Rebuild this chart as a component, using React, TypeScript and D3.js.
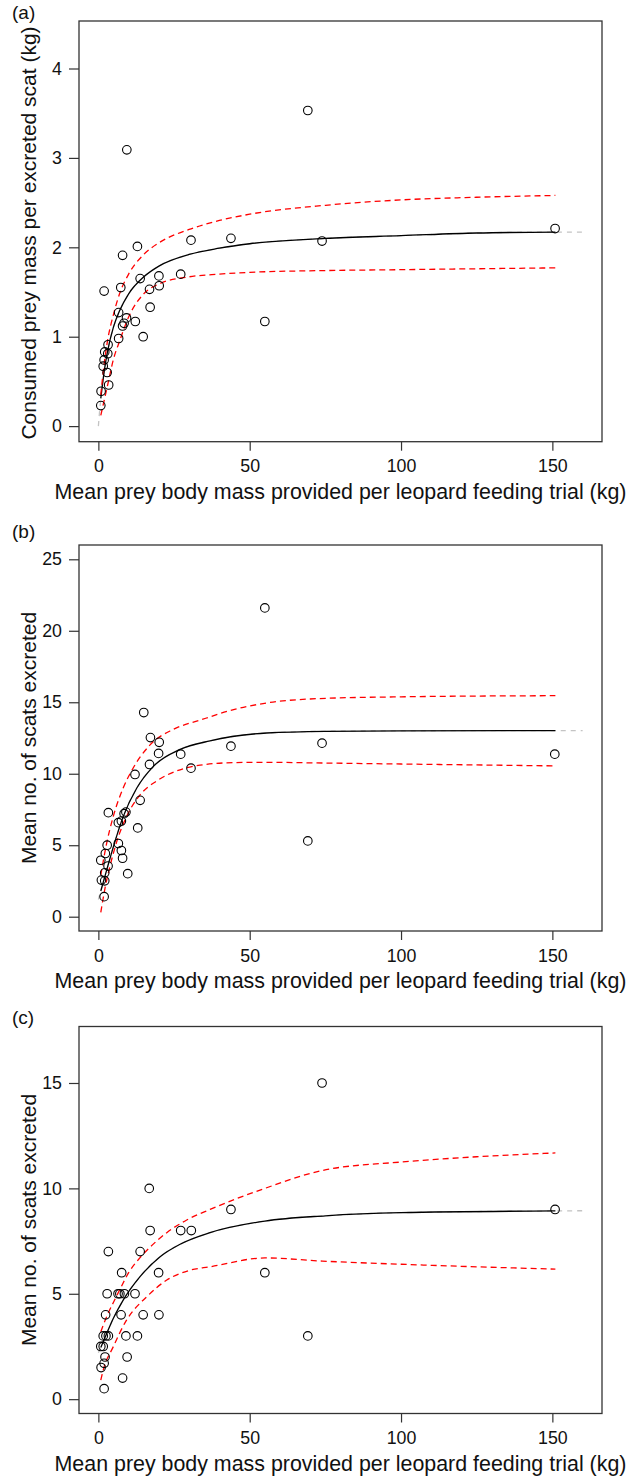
import React, { useRef, useEffect } from "react"
import * as d3 from "d3"

// shared x axis
const xTicks = [0, 50, 100, 150]
const xTitle = "Mean prey body mass provided per leopard feeding trial (kg)"

// panel (a): consumed prey mass per scat
const aPointX = [0.8, 0.9, 1.6, 1.9, 1.9, 2.1, 2.9, 3.1, 3.2, 3.4, 6.7, 6.7, 7.4, 8.0, 8.0, 8.5, 9.3, 9.4, 12.2, 12.9, 13.8, 14.8, 16.9, 17.1, 20.0, 20.1, 27.2, 30.6, 43.8, 55.0, 69.2, 73.9, 150.9]
const aPointY = [0.23, 0.39, 0.67, 0.74, 1.51, 0.83, 0.60, 0.81, 0.91, 0.46, 1.27, 0.98, 1.55, 1.12, 1.91, 1.15, 1.21, 3.09, 1.17, 2.01, 1.65, 1.00, 1.53, 1.33, 1.68, 1.57, 1.70, 2.08, 2.10, 1.17, 3.53, 2.07, 2.21]
const aFitX = [0, 0.8, 2, 3, 5, 7, 10, 15, 20, 30, 40, 50, 75, 100, 125, 151, 160]
const aFitY = [0, 0.31, 0.63, 0.83, 1.11, 1.29, 1.48, 1.67, 1.79, 1.92, 1.99, 2.04, 2.10, 2.13, 2.16, 2.17, 2.17]
const aCiX = [0.8, 2, 3, 5, 7, 10, 15, 20, 30, 40, 50, 75, 100, 125, 151]
const aUpper = [0.35, 0.72, 0.95, 1.25, 1.48, 1.70, 1.92, 2.05, 2.20, 2.30, 2.37, 2.47, 2.53, 2.56, 2.58]
const aLower = [0.12, 0.30, 0.45, 0.75, 0.95, 1.22, 1.48, 1.59, 1.67, 1.70, 1.72, 1.74, 1.75, 1.76, 1.77]
const aTicks = [0, 1, 2, 3, 4]

// panel (b): mean no. of scats
const bPointX = [15.0, 17.2, 20.1, 19.9, 27.2, 30.6, 16.9, 12.1, 13.8, 3.3, 9.1, 8.5, 7.6, 6.6, 13.0, 2.9, 6.6, 7.6, 2.3, 8.0, 0.8, 3.2, 2.1, 9.7, 1.0, 2.1, 1.9, 55.0, 43.8, 73.9, 150.8, 69.2]
const bPointY = [14.28, 12.53, 12.2, 11.42, 11.37, 10.39, 10.65, 9.95, 8.14, 7.28, 7.32, 7.21, 6.69, 6.58, 6.21, 5.0, 5.12, 4.63, 4.42, 4.09, 3.95, 3.54, 3.07, 3.01, 2.56, 2.51, 1.40, 21.6, 11.93, 12.14, 11.37, 5.3]
const bFitX = [0, 0.8, 1.6, 3, 4.9, 8.2, 12.7, 18.1, 27, 36.9, 55.6, 75, 100, 151, 160]
const bFitY = [1.2, 1.8, 2.4, 3.45, 4.85, 7.0, 9.0, 10.5, 11.7, 12.3, 12.85, 12.97, 13.0, 13.02, 13.02]
const bUpperX = [0.8, 2.7, 4.9, 8.2, 11.5, 17, 24.7, 33.6, 45, 55.6, 72, 100, 151]
const bUpper = [2.9, 5.1, 7.0, 9.0, 10.4, 12.0, 13.1, 13.75, 14.5, 14.95, 15.25, 15.38, 15.46]
const bLowerX = [0.8, 2.2, 3.8, 6, 9.3, 13.7, 19.3, 25.9, 33.6, 45, 55, 74, 100, 151]
const bLower = [0.3, 2.0, 3.5, 5.2, 7.0, 8.5, 9.5, 10.2, 10.6, 10.78, 10.8, 10.75, 10.68, 10.55]
const bTicks = [0, 5, 10, 15, 20, 25]

// panel (c): mean no. of scats
const cPointX = [16.8, 17.1, 27.2, 30.7, 3.3, 13.8, 7.7, 19.9, 2.9, 6.5, 7.1, 8.6, 12.1, 2.4, 7.5, 14.8, 20.0, 1.6, 2.5, 3.3, 9.1, 12.9, 0.8, 1.6, 2.2, 9.5, 1.9, 0.9, 8.0, 1.9, 43.8, 69.2, 73.9, 55.0, 150.9]
const cPointY = [10, 8, 8, 8, 7, 7, 6, 6, 5, 5, 5, 5, 5, 4, 4, 4, 4, 3, 3, 3, 3, 3, 2.5, 2.5, 2, 2, 1.7, 1.5, 1, 0.5, 9, 3, 15, 6, 9]
const cFitX = [0, 0.8, 2.7, 5, 8.2, 13.7, 20.3, 27, 36.9, 55, 75, 100, 151, 160]
const cFitY = [2.2, 2.45, 3.1, 3.85, 4.7, 5.8, 6.75, 7.35, 7.9, 8.45, 8.7, 8.85, 8.93, 8.94]
const cUpperX = [0.8, 3, 5, 7.1, 10, 13.7, 17, 22.6, 29.2, 36.9, 55, 74, 100, 125, 151]
const cUpper = [3.2, 4.0, 4.6, 5.2, 6.0, 6.7, 7.2, 7.9, 8.5, 9.0, 10.0, 10.85, 11.25, 11.5, 11.68]
const cLowerX = [0.8, 1.6, 4.9, 9.3, 16, 22.6, 30.3, 36.9, 55, 74, 100, 125, 151]
const cLower = [0.9, 1.38, 2.48, 3.75, 4.86, 5.65, 6.12, 6.28, 6.7, 6.55, 6.4, 6.28, 6.17]
const cTicks = [0, 5, 10, 15]

const zip = (xs: number[], ys: number[]) => xs.map((v, i) => [v, ys[i]] as [number, number])

const panels = [
  { tag: "(a)", top: 21, bottom: 441.7, ymax: 4.357, ticks: aTicks, yTitle: "Consumed prey mass per excreted scat (kg)",
    pts: zip(aPointX, aPointY), fit: zip(aFitX, aFitY), upper: zip(aCiX, aUpper), lower: zip(aCiX, aLower), tagY: 19, titleY: 233 },
  { tag: "(b)", top: 545, bottom: 931, ymax: 25, ticks: bTicks, yTitle: "Mean no. of scats excreted",
    pts: zip(bPointX, bPointY), fit: zip(bFitX, bFitY), upper: zip(bUpperX, bUpper), lower: zip(bLowerX, bLower), tagY: 538, titleY: 738 },
  { tag: "(c)", top: 1026.5, bottom: 1413.5, ymax: 17, ticks: cTicks, yTitle: "Mean no. of scats excreted",
    pts: zip(cPointX, cPointY), fit: zip(cFitX, cFitY), upper: zip(cUpperX, cUpper), lower: zip(cLowerX, cLower), tagY: 1024, titleY: 1220 },
]

const FONT = "'Liberation Sans', Arial, Helvetica, sans-serif"
const left = 79
const right = 602

const App: React.FC = () => {
  const svgRef = useRef<SVGSVGElement>(null)

  useEffect(() => {
    const svg = d3.select(svgRef.current)
    svg.selectAll("*").remove()

    const x = d3.scaleLinear().domain([-6.4, 166.4]).range([left, right])

    panels.forEach(p => {
      const y = d3.scaleLinear()
        .domain([-0.04 * p.ymax, 1.04 * p.ymax])
        .range([p.bottom, p.top])

      const g = svg.append("g").attr("font-family", FONT)

      const line = d3.line<[number, number]>()
        .x(d => x(d[0]))
        .y(d => y(d[1]))
        .curve(d3.curveMonotoneX)

      const xMin = d3.min(p.pts, d => d[0])!
      const xMax = d3.max(p.pts, d => d[0])!

      // full fitted curve, grey dashed
      g.append("path")
        .attr("d", line(p.fit))
        .attr("fill", "none")
        .attr("stroke", "#c4c4c4")
        .attr("stroke-width", 1.3)
        .attr("stroke-dasharray", "5,5")

      // fit over data range
      g.append("path")
        .attr("d", line(p.fit.filter(d => d[0] >= xMin - 0.01 && d[0] <= xMax + 0.2)))
        .attr("fill", "none")
        .attr("stroke", "#000")
        .attr("stroke-width", 1.3)

      ;[p.upper, p.lower].forEach(ci => {
        g.append("path")
          .attr("d", line(ci))
          .attr("fill", "none")
          .attr("stroke", "#ff0000")
          .attr("stroke-width", 1.3)
          .attr("stroke-dasharray", "6,4")
      })

      g.selectAll("circle.pt")
        .data(p.pts)
        .enter().append("circle")
        .attr("class", "pt")
        .attr("cx", d => x(d[0]))
        .attr("cy", d => y(d[1]))
        .attr("r", 4.3)
        .attr("fill", "none")
        .attr("stroke", "#000")
        .attr("stroke-width", 1.1)

      // box
      g.append("rect")
        .attr("x", left)
        .attr("y", p.top)
        .attr("width", right - left)
        .attr("height", p.bottom - p.top)
        .attr("fill", "none")
        .attr("stroke", "#333")
        .attr("stroke-width", 1.3)

      const xAxisG = g.append("g")
        .attr("transform", `translate(0,${p.bottom})`)
        .call(d3.axisBottom(x).tickValues(xTicks).tickSize(9).tickPadding(9).tickFormat(d3.format("d")))
      xAxisG.select(".domain").remove()
      xAxisG.selectAll("line").attr("stroke", "#333").attr("stroke-width", 1.2)
      xAxisG.selectAll("text").attr("font-size", 17.8).attr("font-family", FONT).attr("fill", "#111")

      const yAxisG = g.append("g")
        .attr("transform", `translate(${left},0)`)
        .call(d3.axisLeft(y).tickValues(p.ticks).tickSize(10).tickPadding(7).tickFormat(d3.format("d")))
      yAxisG.select(".domain").remove()
      yAxisG.selectAll("line").attr("stroke", "#333").attr("stroke-width", 1.2)
      yAxisG.selectAll("text").attr("font-size", 17.8).attr("font-family", FONT).attr("fill", "#111")

      g.append("text")
        .attr("x", (left + right) / 2)
        .attr("y", p.bottom + 57)
        .attr("text-anchor", "middle")
        .attr("font-size", 21.4)
        .attr("fill", "#111")
        .text(xTitle)

      g.append("text")
        .attr("transform", `translate(36,${p.titleY}) rotate(-90)`)
        .attr("text-anchor", "middle")
        .attr("font-size", 21)
        .attr("fill", "#111")
        .text(p.yTitle)

      g.append("text")
        .attr("x", 12)
        .attr("y", p.tagY)
        .attr("font-size", 19)
        .attr("fill", "#111")
        .text(p.tag)
    })
  }, [])

  return (
    <svg ref={svgRef} width={628} height={1479}
      style={{ position: "absolute", left: 0, top: 0, background: "#fff" }} />
  )
}

export default App
